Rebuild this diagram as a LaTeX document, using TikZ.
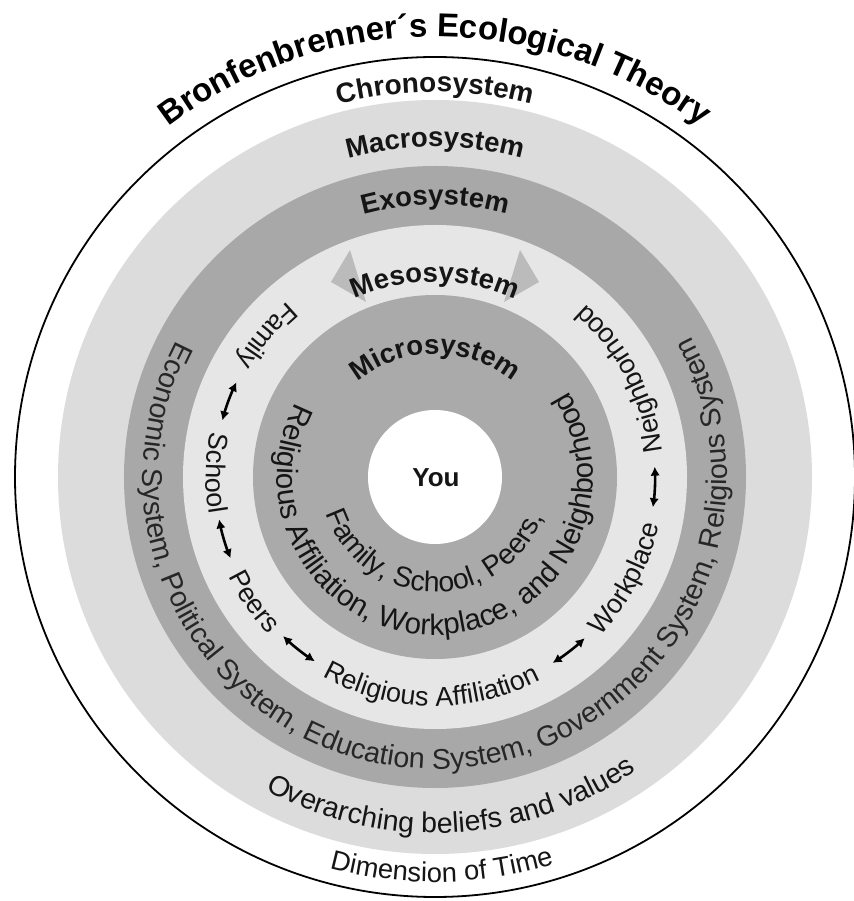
\documentclass[tikz,border=0pt]{standalone}
\usepackage{fontspec}
\setmainfont{Liberation Sans}
\usetikzlibrary{decorations.text, arrows.meta}
\definecolor{macroC}{HTML}{DCDCDC}
\definecolor{exoC}{HTML}{A8A8A8}
\definecolor{mesoC}{HTML}{E6E6E6}
\definecolor{microC}{HTML}{AAAAAA}
\definecolor{chevC}{HTML}{BBBBBB}
\definecolor{txtC}{HTML}{151515}
\newcommand\ringfont{\fontsize{27}{27}\selectfont\color{txtC}}
\newcommand\sizedfont[1]{\fontsize{#1}{#1}\selectfont\color{txtC}}
\newcommand\labfont{\fontsize{27.5}{28}\selectfont\bfseries\color{txtC}}
\newcommand\chronofont{\fontsize{27.9}{28}\selectfont\bfseries\color{txtC}}
\newcommand\titlefont{\fontsize{33}{33}\selectfont\bfseries\color{black}}
\tikzset{
  curv/.style={decorate, decoration={text along path, text align=center, text={#1}}},
  dblarrow/.style={line width=2.6pt, {Latex[length=9pt,width=9.5pt]}-{Latex[length=9pt,width=9.5pt]}},
  chev/.style={fill=chevC}
}
\begin{document}
\begin{tikzpicture}[x=1pt,y=1pt]
\useasboundingbox (-435,-424) rectangle (418,477);
\fill[white] (-435,-424) rectangle (418,477);
% rings
\draw[line width=1.8pt, fill=white] (0,0) circle[radius=420pt];
\fill[macroC] (0,0) circle[radius=377pt];
\fill[exoC] (0,0) circle[radius=311pt];
\fill[mesoC] (0,0) circle[radius=252pt];
% mesosystem arrow heads
\fill[chev] (-85,227) -- (-104,195) -- (-69,175) -- cycle;
\fill[chev] (85,227) -- (104,195) -- (69,175) -- cycle;
\fill[microC] (0,0) circle[radius=182pt];
\fill[white] (0,0) circle[radius=67pt];
\node[font=\fontsize{26}{26}\selectfont\bfseries, text=txtC] (you) at (1,-1) {You};
% title and top labels (clockwise)
\path[curv={|\titlefont|Bronfenbrenner´s Ecological Theory}] (170:440pt) arc[start angle=170, end angle=10, radius=440pt];
\path[curv={|\chronofont|Chronosystem}] (150:385pt) arc[start angle=150, end angle=30, radius=385pt];
\path[curv={|\labfont|Macrosystem}] (150:330pt) arc[start angle=150, end angle=30, radius=330pt];
\path[curv={|\labfont|Exosystem}] (150:272pt) arc[start angle=150, end angle=30, radius=272pt];
\path[curv={|\labfont|Mesosystem}] (150:195pt) arc[start angle=150, end angle=30, radius=195pt];
\path[curv={|\labfont|Microsystem}] (150:123pt) arc[start angle=150, end angle=30, radius=123pt];
% bottom texts (counter-clockwise)
\path[curv={|\sizedfont{27.3}|Dimension of Time}] (181:405pt) arc[start angle=181, end angle=361, radius=405pt];
\path[curv={|\sizedfont{28.5}|Overarching beliefs and values}] (183:356pt) arc[start angle=183, end angle=363, radius=356pt];
\path[curv={|\sizedfont{28.6}\color{black!85}|Economic System, Political System, Education System, Government System, Religious System}] (120:292pt) arc[start angle=120, end angle=421, radius=292pt];
\path[curv={|\sizedfont{29.5}|Religious Affiliation, Workplace, and Neighborhood}] (122:158pt) arc[start angle=122, end angle=423, radius=158pt];
\path[curv={|\sizedfont{28.4}|Family, School, Peers,}] (179:115pt) arc[start angle=179, end angle=359, radius=115pt];
% mesosystem ring words
\path[curv={|\ringfont|Family}] (80:229pt) arc[start angle=80, end angle=200, radius=229pt];
\path[curv={|\ringfont|School}] (119:229pt) arc[start angle=119, end angle=239, radius=229pt];
\path[curv={|\ringfont|Peers}] (154.5:229pt) arc[start angle=154.5, end angle=274.5, radius=229pt];
\path[curv={|\ringfont|Religious Affiliation}] (209:229pt) arc[start angle=209, end angle=329, radius=229pt];
\path[curv={|\ringfont|Workplace}] (272:229pt) arc[start angle=272, end angle=392, radius=229pt];
\path[curv={|\ringfont|Neighborhood}] (327.7:229pt) arc[start angle=327.7, end angle=447.7, radius=229pt];
% mesosystem connectors
\coordinate (a1) at (154.5:220pt);
\coordinate (a2) at (191.1:220pt);
\coordinate (a3) at (226.3:220pt);
\coordinate (a4) at (302.3:220pt);
\coordinate (a5) at (352.1:220pt);
\draw[dblarrow] (a1) arc[start angle=154.5, end angle=165.1, radius=220pt];
\draw[dblarrow] (a2) arc[start angle=191.1, end angle=201.7, radius=220pt];
\draw[dblarrow] (a3) arc[start angle=226.3, end angle=236.9, radius=220pt];
\draw[dblarrow] (a4) arc[start angle=302.3, end angle=312.9, radius=220pt];
\draw[dblarrow] (a5) arc[start angle=352.1, end angle=362.7, radius=220pt];
\end{tikzpicture}
\end{document}
